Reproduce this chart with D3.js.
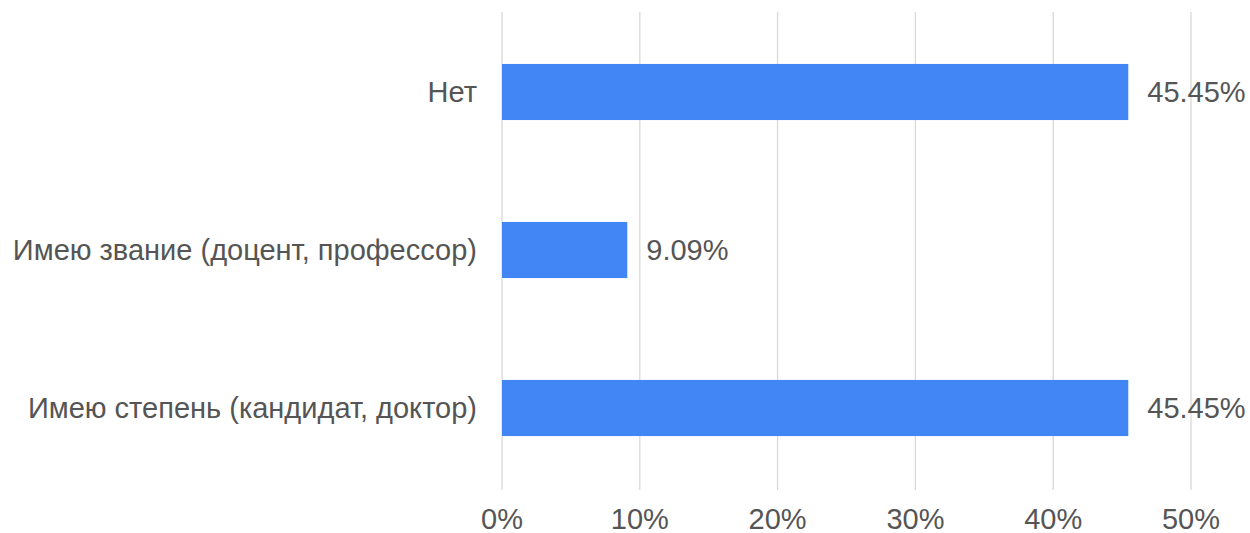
<!DOCTYPE html>
<html>
  <head>
    <meta charset="utf-8">
    <title>Chart</title>
    <style>
      body { margin: 0; background: #fff; }
      text { font-family: "Liberation Sans", Arial, sans-serif; }
    </style>
  </head>
  <body>
    <div id="chart"></div>
    <script src="https://d3js.org/d3.v7.min.js"></script>
    <script>
      var categories = ["Нет", "Имею звание (доцент, профессор)", "Имею степень (кандидат, доктор)"];
      var values     = [45.45, 9.09, 45.45];
      var xticks     = [0, 10, 20, 30, 40, 50];

      var W = 1250, H = 533;
      var plotLeft = 502, plotRight = 1191, plotTop = 13, plotBottom = 487;
      var fs = 29;

      var svg = d3.select("#chart").append("svg")
          .attr("width", W).attr("height", H);

      var x = d3.scaleLinear().domain([0, 50]).range([plotLeft, plotRight]);
      var y = d3.scaleBand().domain(categories).range([plotTop, plotBottom])
          .paddingInner(0.645).paddingOuter(0.3225);

      // gridlines
      svg.selectAll(".grid").data(xticks).enter().append("line")
          .attr("x1", function(d){ return x(d); })
          .attr("x2", function(d){ return x(d); })
          .attr("y1", 12).attr("y2", 490)
          .attr("stroke", "#d9d9d9").attr("stroke-width", 1.3);

      // bars
      svg.selectAll(".bar").data(values).enter().append("rect")
          .attr("x", x(0))
          .attr("y", function(d, i){ return y(categories[i]); })
          .attr("width", function(d){ return x(d) - x(0); })
          .attr("height", y.bandwidth())
          .attr("fill", "#4285f4");

      // value labels
      svg.selectAll(".val").data(values).enter().append("text")
          .attr("x", function(d){ return x(d) + 19; })
          .attr("y", function(d, i){ return y(categories[i]) + y.bandwidth()/2; })
          .attr("dy", "0.35em")
          .attr("font-size", fs)
          .attr("fill", "#555")
          .text(function(d){ return d.toFixed(2) + "%"; });

      // category labels
      svg.selectAll(".cat").data(categories).enter().append("text")
          .attr("x", 477)
          .attr("y", function(d){ return y(d) + y.bandwidth()/2; })
          .attr("dy", "0.35em")
          .attr("text-anchor", "end")
          .attr("font-size", fs)
          .attr("fill", "#555")
          .text(function(d){ return d; });

      // x tick labels
      svg.selectAll(".tick").data(xticks).enter().append("text")
          .attr("x", function(d){ return x(d); })
          .attr("y", 519)
          .attr("dy", "0.35em")
          .attr("text-anchor", "middle")
          .attr("font-size", fs)
          .attr("fill", "#555")
          .text(function(d){ return d + "%"; });
    </script>
  </body>
</html>
